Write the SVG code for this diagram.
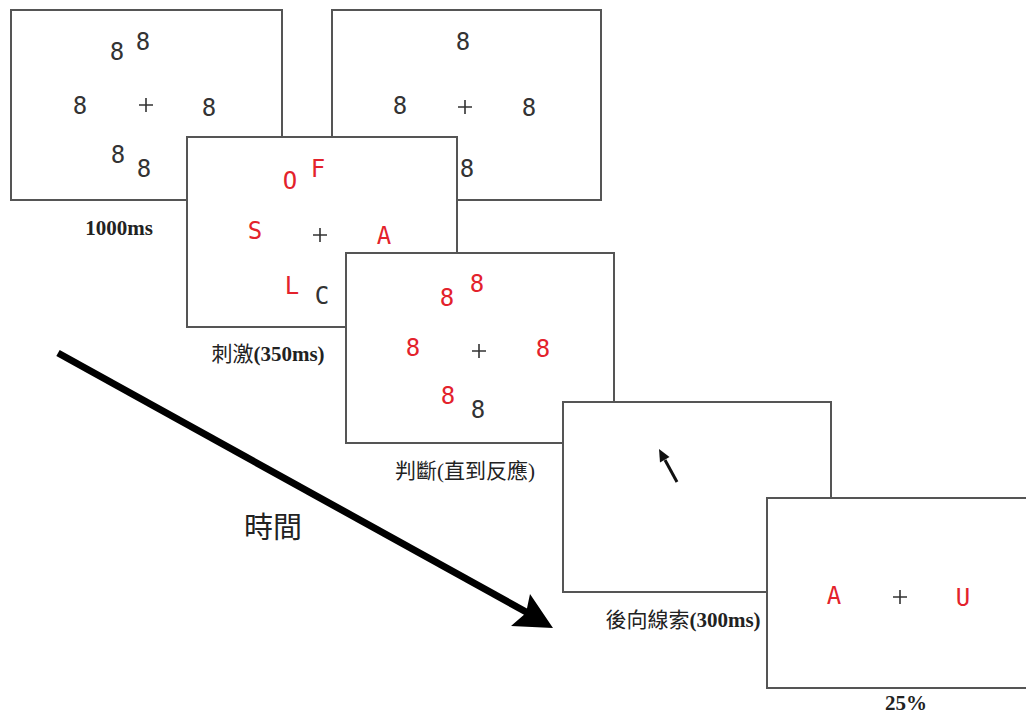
<svg xmlns="http://www.w3.org/2000/svg" width="1026" height="716" viewBox="0 0 1026 716">
<style>
.frame{fill:#fff;stroke:#555;stroke-width:2}
.g{font-family:"DejaVu Sans Mono","Liberation Mono",monospace;font-size:24px;text-anchor:middle}
.k{fill:#333}
.r{fill:#e3222b}
.cross{stroke:#333;stroke-width:1.6;fill:none}
.lbl{font-family:"Liberation Serif","Noto Sans CJK TC",serif;font-size:21px;fill:#222;text-anchor:middle}
.cjk{font-family:"Noto Sans CJK TC","Noto Sans CJK SC",sans-serif;font-weight:normal}
.b{font-weight:bold}
</style>
<rect width="1026" height="716" fill="#fff"/>

<g id="screen-fixation-1000ms">
  <rect class="frame" x="11" y="10" width="271" height="190"/>
  <text class="g k" x="117" y="60">8</text>
  <text class="g k" x="143" y="50">8</text>
  <text class="g k" x="80" y="114">8</text>
  <path class="cross" d="M139 105H153M146 98V112"/>
  <text class="g k" x="209" y="116">8</text>
  <text class="g k" x="118" y="163">8</text>
  <text class="g k" x="144" y="177">8</text>
  <text class="lbl b" x="119" y="235">1000ms</text>
</g>

<g id="screen-fixation-2">
  <rect class="frame" x="332" y="10" width="269" height="190"/>
  <text class="g k" x="463" y="50">8</text>
  <text class="g k" x="400" y="114">8</text>
  <path class="cross" d="M458 107H472M465 100V114"/>
  <text class="g k" x="529" y="116">8</text>
  <text class="g k" x="467" y="177">8</text>
</g>

<g id="screen-stimulus">
  <rect class="frame" x="187" y="137" width="270" height="190"/>
  <text class="g r" x="290" y="189">O</text>
  <text class="g r" x="318" y="177">F</text>
  <text class="g r" x="255" y="239">S</text>
  <path class="cross" d="M313 235H327M320 228V242"/>
  <text class="g r" x="384" y="244">A</text>
  <text class="g r" x="292" y="294">L</text>
  <text class="g k" x="322" y="304">C</text>
  <text class="lbl" x="268" y="361"><tspan class="cjk">刺激</tspan><tspan class="b">(350ms)</tspan></text>
</g>

<g id="screen-judgement">
  <rect class="frame" x="346" y="253" width="268" height="190"/>
  <text class="g r" x="447" y="306">8</text>
  <text class="g r" x="477" y="292">8</text>
  <text class="g r" x="413" y="356">8</text>
  <path class="cross" d="M472 351H486M479 344V358"/>
  <text class="g r" x="543" y="357">8</text>
  <text class="g r" x="448" y="404">8</text>
  <text class="g k" x="478" y="418">8</text>
  <text class="lbl" x="465" y="478"><tspan class="cjk">判斷</tspan>(<tspan class="cjk">直到反應</tspan>)</text>
</g>

<g id="screen-cue">
  <rect class="frame" x="563" y="402" width="268" height="190"/>
  <line x1="677" y1="482" x2="665" y2="460" stroke="#111" stroke-width="3"/>
  <polygon points="659,449 669.5,457 660,462.5" fill="#111"/>
  <text class="lbl" x="683" y="627"><tspan class="cjk">後向線索</tspan><tspan class="b">(300ms)</tspan></text>
</g>

<g id="screen-probe">
  <rect class="frame" x="767" y="498" width="270" height="190"/>
  <text class="g r" x="834" y="604">A</text>
  <path class="cross" d="M893 597H907M900 590V604"/>
  <text class="g r" x="963" y="606">U</text>
  <text class="lbl b" x="906" y="710" font-size="20">25%</text>
</g>

<g id="connectors">
  <line x1="58" y1="353" x2="528" y2="613" stroke="#000" stroke-width="7"/>
  <polygon points="553,628 530,594 526,613 511,626" fill="#000"/>
  <text x="273" y="538" font-family="'Noto Sans CJK TC','Noto Sans CJK SC',sans-serif" font-size="29" fill="#222" text-anchor="middle">時間</text>
</g>
</svg>
